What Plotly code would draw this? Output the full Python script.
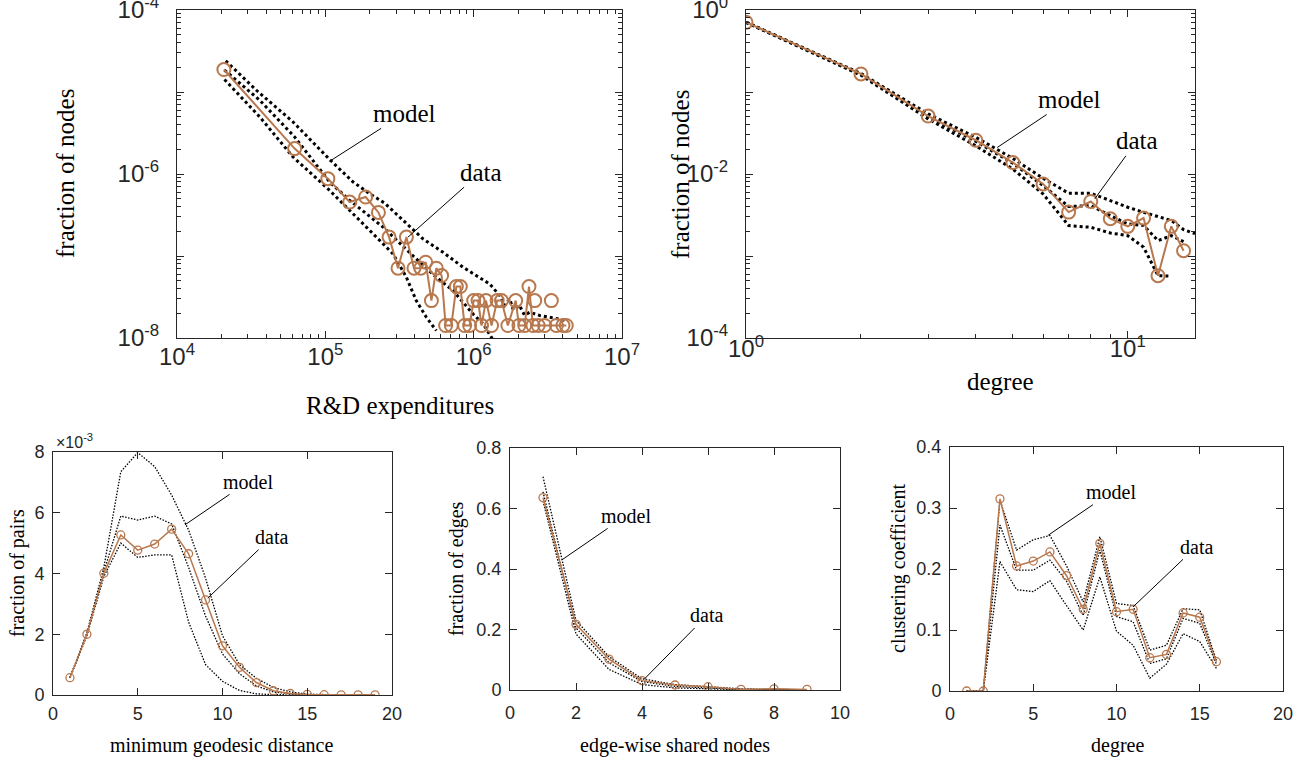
import plotly.graph_objects as go

# ---------------- Panel A: R&D expenditures (log-log) ----------------
rd_x = [2.07e4, 6.21e4, 1.04e5, 1.46e5, 1.87e5, 2.28e5, 2.69e5, 3.09e5, 3.52e5, 3.96e5,
        4.40e5, 4.75e5, 5.19e5, 5.60e5, 6.08e5, 6.47e5, 7.07e5, 7.64e5, 8.13e5, 8.69e5,
        9.39e5, 1.00e6, 1.07e6, 1.13e6, 1.21e6, 1.32e6, 1.44e6, 1.54e6, 1.70e6, 1.92e6,
        2.02e6, 2.21e6, 2.36e6, 2.51e6, 2.72e6, 3.01e6, 3.61e6, 4.00e6, 4.21e6]
rd_y = [1.88e-5, 2.04e-6, 8.77e-7, 4.55e-7, 5.24e-7, 3.40e-7, 1.70e-7, 7.1e-8, 1.70e-7, 7.1e-8,
        7.1e-8, 8.4e-8, 2.86e-8, 7.1e-8, 5.78e-8, 1.42e-8, 1.42e-8, 4.24e-8, 4.24e-8, 1.42e-8,
        1.42e-8, 2.86e-8, 2.86e-8, 1.42e-8, 2.86e-8, 1.42e-8, 2.86e-8, 2.86e-8, 1.42e-8, 2.86e-8,
        1.42e-8, 1.42e-8, 4.24e-8, 1.42e-8, 1.42e-8, 1.42e-8, 1.42e-8, 1.42e-8, 1.42e-8]
rd_iso_x = [2.58e6, 3.34e6]
rd_iso_y = [2.86e-8, 2.86e-8]

rd_up_x = [2.13e4, 3.43e4, 6.06e4, 1.07e5, 1.54e5, 1.99e5, 2.51e5, 3.34e5, 4.55e5, 6.21e5,
           8.47e5, 1.04e6, 1.28e6, 1.50e6, 1.62e6, 1.75e6, 1.85e6, 2.04e6, 2.20e6, 2.39e6,
           2.79e6, 3.25e6, 4.21e6]
rd_up_y = [2.40e-5, 1.05e-5, 4.31e-6, 1.50e-6, 7.98e-7, 5.75e-7, 4.42e-7, 2.72e-7, 1.62e-7, 1.11e-7,
           7.31e-8, 5.78e-8, 4.57e-8, 3.29e-8, 2.5e-8, 3.00e-8, 2.2e-8, 2.48e-8, 1.9e-8, 2.06e-8,
           1.88e-8, 1.79e-8, 1.63e-8]
rd_mid_x = [2.09e4, 3.61e4, 6.21e4, 1.07e5, 1.46e5, 2.45e5, 4.10e5, 5.60e5, 7.26e5, 9.91e5,
            1.16e6, 1.35e6]
rd_mid_y = [1.85e-5, 7.94e-6, 2.83e-6, 7.98e-7, 4.77e-7, 2.25e-7, 9.23e-8, 5.51e-8, 3.78e-8, 1.96e-8,
            1.48e-8, 0.95e-8]
rd_lo_x = [2.09e4, 3.61e4, 6.06e4, 1.07e5, 1.89e5, 2.86e5, 3.52e5, 4.10e5, 4.80e5, 5.60e5]
rd_lo_y = [1.42e-5, 4.98e-6, 1.61e-6, 6.31e-7, 2.25e-7, 1.06e-7, 5.51e-8, 2.86e-8, 1.79e-8, 1.23e-8]

# ---------------- Panel B: degree distribution (log-log) ----------------
deg_x = [1, 2, 3, 4, 5, 6, 7, 8, 9, 10, 11, 12, 13, 14]
deg_y = [0.709, 0.166, 0.0509, 0.0258, 0.0138, 0.00757, 0.00343, 0.00462, 0.00285, 0.00230,
         0.00290, 0.000575, 0.00230, 0.00116]
deg_up_x = [1, 2, 3, 4, 5, 6, 7, 8, 9, 10, 11, 12, 13, 14, 15]
deg_up_y = [0.709, 0.168, 0.054, 0.028, 0.0155, 0.00887, 0.00582, 0.00582, 0.00474, 0.00393,
            0.00341, 0.00305, 0.00271, 0.0021, 0.00187]
deg_mid_x = [1, 2, 3, 4, 5, 6, 7, 8, 9, 10, 11, 12, 13, 14]
deg_mid_y = [0.709, 0.164, 0.050, 0.025, 0.0135, 0.00723, 0.00401, 0.00412, 0.00311, 0.00246,
             0.00235, 0.00154, 0.00177, 0.0015]
deg_lo_x = [1, 2, 3, 4, 5, 6, 7, 8, 9, 10, 11, 12, 13]
deg_lo_y = [0.709, 0.160, 0.047, 0.022, 0.0115, 0.00571, 0.00235, 0.00224, 0.00191, 0.00177,
            0.00128, 0.000577, 0.000566]

# ---------------- Panel C: geodesic distance ----------------
geo_x = list(range(1, 20))
geo_y = [0.57e-3, 2.0e-3, 4.01e-3, 5.27e-3, 4.77e-3, 4.97e-3, 5.46e-3, 4.65e-3, 3.13e-3, 1.62e-3,
         0.91e-3, 0.41e-3, 0.14e-3, 0.05e-3, 0.02e-3, 0.01e-3, 0.005e-3, 0.005e-3, 0.005e-3]
geo_up = [0.57e-3, 2.05e-3, 4.2e-3, 7.35e-3, 7.98e-3, 7.52e-3, 6.58e-3, 5.43e-3, 3.85e-3, 1.95e-3,
          1.0e-3, 0.55e-3, 0.25e-3, 0.1e-3, 0.03e-3, 0.01e-3, 0.0, 0.0, 0.0]
geo_mid = [0.57e-3, 2.0e-3, 4.05e-3, 5.89e-3, 5.76e-3, 5.89e-3, 5.63e-3, 4.2e-3, 2.6e-3, 1.35e-3,
           0.7e-3, 0.3e-3, 0.1e-3, 0.04e-3, 0.01e-3, 0.0, 0.0, 0.0, 0.0]
geo_lo = [0.57e-3, 1.95e-3, 3.9e-3, 5.0e-3, 4.53e-3, 4.61e-3, 4.61e-3, 2.4e-3, 1.0e-3, 0.45e-3,
          0.15e-3, 0.04e-3, 0.01e-3, 0.0, 0.0, 0.0, 0.0, 0.0, 0.0]

# ---------------- Panel D: edge-wise shared nodes ----------------
sh_x = [1, 2, 3, 4, 5, 6, 7, 8, 9]
sh_y = [0.636, 0.217, 0.102, 0.031, 0.0165, 0.011, 0.002, 0.004, 0.002]
sh_up = [0.705, 0.23, 0.11, 0.037, 0.018, 0.01, 0.004, 0.002, 0.001]
sh_mid = [0.655, 0.205, 0.09, 0.028, 0.012, 0.006, 0.002, 0.001, 0.0]
sh_lo = [0.625, 0.185, 0.068, 0.018, 0.007, 0.003, 0.001, 0.0, 0.0]

# ---------------- Panel E: clustering coefficient ----------------
cl_x = list(range(1, 17))
cl_y = [0.0, 0.0, 0.315, 0.205, 0.213, 0.228, 0.189, 0.134, 0.242, 0.130, 0.134, 0.0546, 0.060,
        0.128, 0.121, 0.048]
cl_up = [0.0, 0.0, 0.313, 0.231, 0.248, 0.255, 0.205, 0.146, 0.253, 0.1435, 0.14, 0.067, 0.075,
         0.135, 0.133, 0.05]
cl_mid = [0.0, 0.0, 0.272, 0.198, 0.198, 0.2145, 0.18, 0.124, 0.231, 0.122, 0.1135, 0.045, 0.053,
          0.119, 0.111, 0.044]
cl_lo = [0.0, 0.0, 0.212, 0.166, 0.163, 0.181, 0.14, 0.10, 0.187, 0.098, 0.075, 0.021, 0.044,
         0.094, 0.081, 0.037]

BROWN = "rgb(184,120,78)"
AX = "#262626"
SANS = "Liberation Sans"
SERIF = "Liberation Serif"
W, H = 1309, 761

fig = go.Figure()


def add_panel(n, xs_model, ys_model, xd, yd, big):
    xa = "x" if n == 1 else f"x{n}"
    ya = "y" if n == 1 else f"y{n}"
    lw = 3 if big else 1.3
    dash = "dot" if big else "1.5px,1.5px"
    for mx, my in zip(xs_model, ys_model):
        fig.add_trace(go.Scatter(x=mx, y=my, mode="lines", xaxis=xa, yaxis=ya,
                                 line=dict(color="black", width=lw, dash=dash),
                                 showlegend=False, hoverinfo="skip"))
    fig.add_trace(go.Scatter(x=xd, y=yd, mode="lines+markers", xaxis=xa, yaxis=ya,
                             line=dict(color=BROWN, width=2 if big else 1.5),
                             marker=dict(symbol="circle-open", size=13 if big else 8,
                                         color=BROWN, line=dict(width=2 if big else 1.3)),
                             showlegend=False))


add_panel(1, [rd_up_x, rd_mid_x, rd_lo_x], [rd_up_y, rd_mid_y, rd_lo_y], rd_x, rd_y, True)
fig.add_trace(go.Scatter(x=rd_iso_x, y=rd_iso_y, mode="markers", xaxis="x", yaxis="y",
                         marker=dict(symbol="circle-open", size=13, color=BROWN, line=dict(width=2)),
                         showlegend=False))
add_panel(2, [deg_up_x, deg_mid_x, deg_lo_x], [deg_up_y, deg_mid_y, deg_lo_y], deg_x, deg_y, True)
add_panel(3, [geo_x, geo_x, geo_x], [geo_up, geo_mid, geo_lo], geo_x, geo_y, False)
add_panel(4, [sh_x, sh_x, sh_x], [sh_up, sh_mid, sh_lo], sh_x, sh_y, False)
add_panel(5, [cl_x, cl_x, cl_x], [cl_up, cl_mid, cl_lo], cl_x, cl_y, False)


def base_axis(size, domain, anchor, standoff):
    return dict(domain=domain, anchor=anchor, showline=True, linecolor=AX, linewidth=1,
                mirror="ticks", ticks="inside", ticklen=7, tickcolor=AX, tickwidth=1,
                tickfont=dict(family=SANS, size=size, color=AX), automargin=False,
                ticklabelstandoff=standoff, ticklabeloverflow="allow",
                showgrid=False, zeroline=False)


def px_dom(a, b, total, flip=False):
    if flip:
        return [1 - b / total, 1 - a / total]
    return [a / total, b / total]


def minor_vals(lo, hi):
    return [m * 10 ** e for e in range(lo, hi) for m in range(2, 10)]


sup = lambda e: f"10<sup>{e}</sup>"

# Panel A axes
xa1 = base_axis(24, px_dom(177, 622, W), "y", -3)
xa1.update(type="log", range=[4, 7], tickvals=[1e4, 1e5, 1e6, 1e7],
           ticktext=[sup(4), sup(5), sup(6), sup(7)],
           minor=dict(tickvals=minor_vals(4, 7), ticks="inside", ticklen=4, tickcolor=AX))
ya1 = base_axis(24, px_dom(10, 338, H, True), "x", 12)
ya1.update(type="log", range=[-8, -4], tickvals=[1e-8, 1e-7, 1e-6, 1e-5, 1e-4],
           ticktext=[sup(-8), "", sup(-6), "", sup(-4)],
           minor=dict(tickvals=minor_vals(-8, -4), ticks="inside", ticklen=4, tickcolor=AX))

# Panel B axes
xa2 = base_axis(24, px_dom(746, 1195, W), "y2", -11)
xa2.update(type="log", range=[0, 1.17609], tickvals=[1, 10], ticktext=[sup(0), sup(1)],
           minor=dict(tickvals=minor_vals(0, 2), ticks="inside", ticklen=4, tickcolor=AX))
ya2 = base_axis(24, px_dom(10, 338, H, True), "x2", 12)
ya2.update(type="log", range=[-4, 0], tickvals=[1e-4, 1e-3, 1e-2, 1e-1, 1],
           ticktext=[sup(-4), "", sup(-2), "", sup(0)],
           minor=dict(tickvals=minor_vals(-4, 0), ticks="inside", ticklen=4, tickcolor=AX))

# Panel C axes
xa3 = base_axis(18, px_dom(53, 392, W), "y3", 2)
xa3.update(range=[0, 20], tickvals=[0, 5, 10, 15, 20])
ya3 = base_axis(18, px_dom(452, 695, H, True), "x3", 4)
ya3.update(range=[0, 0.008], tickvals=[0, 0.002, 0.004, 0.006, 0.008],
           ticktext=["0", "2", "4", "6", "8"])

# Panel D axes
xa4 = base_axis(18, px_dom(510, 840, W), "y4", 6)
xa4.update(range=[0, 10], tickvals=[0, 2, 4, 6, 8, 10])
ya4 = base_axis(18, px_dom(448, 690, H, True), "x4", 4)
ya4.update(range=[0, 0.8], tickvals=[0, 0.2, 0.4, 0.6, 0.8], ticktext=["0", "0.2", "0.4", "0.6", "0.8"])

# Panel E axes
xa5 = base_axis(18, px_dom(950, 1283, W), "y5", 6)
xa5.update(range=[0, 20], tickvals=[0, 5, 10, 15, 20])
ya5 = base_axis(18, px_dom(447, 691, H, True), "x5", 4)
ya5.update(range=[0, 0.4], tickvals=[0, 0.1, 0.2, 0.3, 0.4], ticktext=["0", "0.1", "0.2", "0.3", "0.4"])

ann = []


def label(text, xpx, ypx, size, angle=0):
    ann.append(dict(text=text, x=xpx / W, y=1 - ypx / H, xref="paper", yref="paper",
                    showarrow=False, textangle=angle, xanchor="center", yanchor="middle",
                    font=dict(family=SERIF, size=size, color="black")))


def pointer(text, xa, ya, x, y, ax, ay, size):
    ann.append(dict(text=text, x=x, y=y, xref=xa, yref=ya, showarrow=True, arrowhead=0,
                    arrowwidth=1, arrowcolor="black", ax=ax, ay=ay, standoff=0,
                    font=dict(family=SERIF, size=size, color="black")))


# axis titles
label("fraction of nodes", 65, 174, 25, -90)
label("R&D expenditures", 400, 405, 25)
label("fraction of nodes", 680, 174, 25, -90)
label("degree", 1000, 381, 25)
label("fraction of pairs", 17, 573, 20, -90)
label("minimum geodesic distance", 222, 745, 20)
label("fraction of edges", 456, 569, 20, -90)
label("edge-wise shared nodes", 675, 745, 20)
label("clustering coefficient", 898, 569, 20, -90)
label("degree", 1117, 745, 20)

# exponent label for panel C
ann.append(dict(text="×10<sup>-3</sup>", x=54 / W, y=1 - 441 / H, xref="paper", yref="paper",
                showarrow=False, xanchor="left", yanchor="middle",
                font=dict(family=SANS, size=16, color=AX)))

# model / data pointers
pointer("model", "x", "y", 5.029, -5.845, 75, -48, 25)
pointer("data", "x", "y", 5.557, -6.770, 73, -65, 25)
pointer("model", "x2", "y2", 0.658, -1.677, 72, -48, 25)
pointer("data", "x2", "y2", 0.9135, -2.303, 42, -58, 25)
pointer("model", "x3", "y3", 7.78, 0.0056, 63, -43, 20)
pointer("data", "x3", "y3", 9.13, 0.00319, 64, -61, 20)
pointer("model", "x4", "y4", 1.57, 0.43, 64, -44, 20)
pointer("data", "x4", "y4", 4.06, 0.035, 63, -64, 20)
pointer("model", "x5", "y5", 5.9, 0.2554, 63, -43, 20)
pointer("data", "x5", "y5", 11.0, 0.138, 63, -60, 20)

fig.update_layout(
    width=W, height=H, margin=dict(l=0, r=0, t=0, b=0),
    paper_bgcolor="white", plot_bgcolor="white", showlegend=False,
    xaxis=xa1, yaxis=ya1, xaxis2=xa2, yaxis2=ya2, xaxis3=xa3, yaxis3=ya3,
    xaxis4=xa4, yaxis4=ya4, xaxis5=xa5, yaxis5=ya5, annotations=ann,
)

fig.write_html("out.html")
